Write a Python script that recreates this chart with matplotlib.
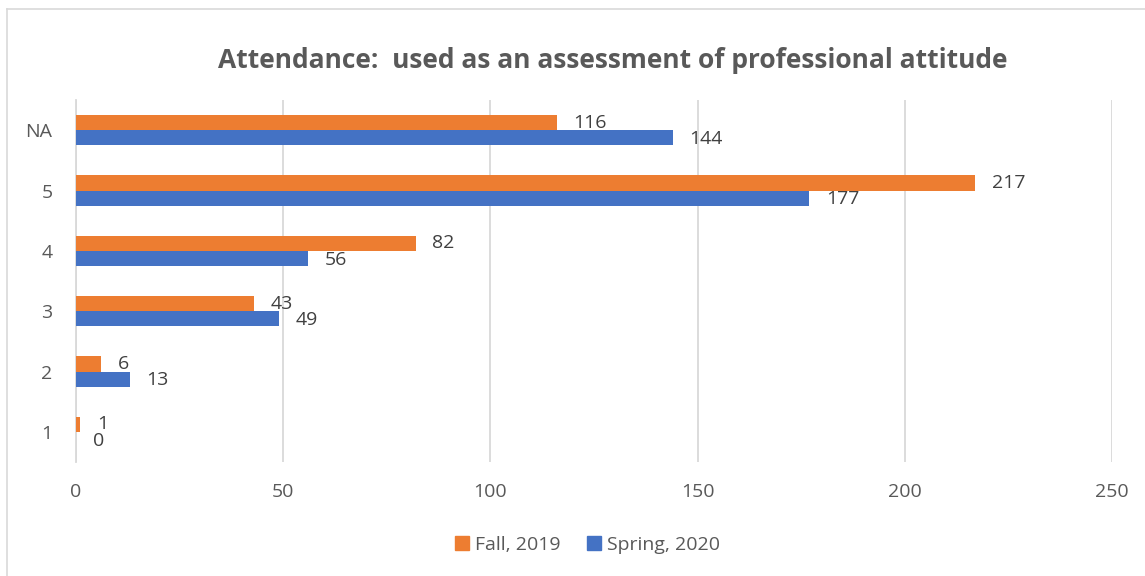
import numpy as np
import matplotlib.pyplot as plt
from matplotlib.lines import Line2D

categories = ["1", "2", "3", "4", "5", "NA"]
fall_2019 = [1, 6, 43, 82, 217, 116]
spring_2020 = [0, 13, 49, 56, 177, 144]
x_ticks = [0, 50, 100, 150, 200, 250]

orange = "#ED7D31"
blue = "#4472C4"
text_col = "#595959"

plt.rcParams['font.family'] = ['Open Sans', 'DejaVu Sans']

fig = plt.figure(figsize=(11.45, 5.76), dpi=100)
ax = fig.add_axes([76 / 1145, 1 - 462 / 576, (1112 - 76) / 1145, (462 - 100) / 576])

y = np.arange(len(categories))
h = 0.25
ax.barh(y + h / 2, fall_2019, height=h, color=orange, label="Fall, 2019", zorder=3)
ax.barh(y - h / 2, spring_2020, height=h, color=blue, label="Spring, 2020", zorder=3)

# data labels
for yi, v in zip(y, fall_2019):
    ax.annotate(str(v), (v, yi + h / 2), xytext=(12, 0), textcoords="offset points",
                va="center", ha="left", fontsize=14, color="#404040")
for yi, v in zip(y, spring_2020):
    ax.annotate(str(v), (v, yi - h / 2), xytext=(12, -1), textcoords="offset points",
                va="center", ha="left", fontsize=14, color="#404040")

ax.set_xlim(0, 250)
ax.set_ylim(-0.5, 5.5)
ax.set_xticks(x_ticks)
ax.set_xticklabels([str(t) for t in x_ticks], fontsize=14, color=text_col)
ax.set_yticks(y)
ax.set_yticklabels(categories, fontsize=14, color=text_col)
ax.tick_params(length=0, pad=15, axis="x")
ax.tick_params(length=0, pad=17, axis="y")
ax.grid(axis="x", color="#D9D9D9", linewidth=1.3, zorder=0)
for s in ["top", "right", "bottom"]:
    ax.spines[s].set_visible(False)
ax.spines["left"].set_color("#D9D9D9")
ax.spines["left"].set_linewidth(1.3)

fig.text(613 / 1145, 1 - 61 / 576, "Attendance:  used as an assessment of professional attitude",
         ha="center", va="center", fontsize=19, fontweight="bold", color=text_col)

handles = [Line2D([], [], marker="s", linestyle="none", markersize=10, color=orange),
           Line2D([], [], marker="s", linestyle="none", markersize=10, color=blue)]
fig.legend(handles, ["Fall, 2019", "Spring, 2020"], loc="center", bbox_to_anchor=(587 / 1145, 1 - 545 / 576),
           ncol=2, frameon=False, fontsize=14, handlelength=0.8, handletextpad=0.3,
           columnspacing=1.3, labelcolor=text_col)

# chart border (top and left visible)
fig.add_artist(Line2D([7 / 1145, 7 / 1145], [0, 1 - 9 / 576], transform=fig.transFigure, color="#D9D9D9", lw=1.2))
fig.add_artist(Line2D([7 / 1145, 1], [1 - 9 / 576, 1 - 9 / 576], transform=fig.transFigure, color="#D9D9D9", lw=1.2))

fig.savefig("out.png", dpi=100)
